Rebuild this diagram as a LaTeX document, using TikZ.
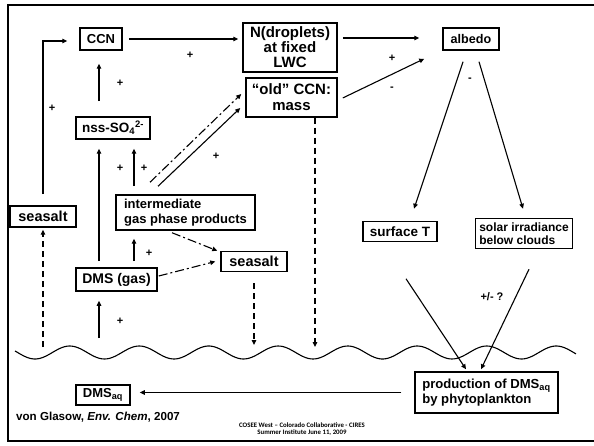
\documentclass[tikz,border=0pt]{standalone}
\usepackage{fontspec}
\setmainfont{Liberation Sans}
\newfontfamily\notefont{Carlito}
\usetikzlibrary{arrows.meta,calc}
\newcommand\fsz[2]{\fontsize{#1}{#2}\selectfont\bfseries}
\tikzset{
  box/.style={draw, line width=1.5pt, inner sep=0pt, align=center},
  arr/.style={line width=1.1pt, -{Triangle[length=5pt,width=4.5pt]}},
  dsh/.style={arr, dash pattern=on 6pt off 4pt},
  dshdot/.style={arr, dash pattern=on 9pt off 3pt on 2pt off 3pt},
  sign/.style={font=\fsz{11}{13}, inner sep=0pt},
}
\begin{document}
\begin{tikzpicture}[x=1pt,y=-1pt]
\useasboundingbox (0,0) rectangle (594,446);
% frame
\draw[line width=2.5pt] (594,5) -- (8,5) -- (8,441) -- (594,441);

% sea surface (period 69.5)
\draw[line width=1.1pt] plot[domain=15:576, samples=240]
  (\x, {352.5+6.5*sin((\x-35)*5.18+90)});

% boxes
\node[box, minimum width=42, minimum height=22, font=\fsz{13}{15}] (ccn) at (101,39) {CCN};
\node[box, minimum width=94, minimum height=49, font=\fsz{15}{15}] (ndrop) at (290,47.5) {N(droplets)\\at fixed\\LWC};
\node[box, minimum width=91, minimum height=39, font=\fsz{15}{16}] (oldccn) at (291.5,97.5) {“old” CCN:\\mass};
\node[box, minimum width=56, minimum height=22, font=\fsz{12.6}{15}] (albedo) at (471,39) {albedo};
\node[box, minimum width=74, minimum height=22, font=\fsz{13.5}{15}] (nss) at (113,128) {nss-SO\textsubscript{4}\textsuperscript{2-}};
\node[box, minimum width=139, minimum height=35, inner xsep=6pt, align=left, font=\fsz{13}{15}] (inter) at (185.5,212.5) {intermediate\\gas phase products};
\node[box, minimum width=66, minimum height=21, font=\fsz{14.5}{15}] (seasaltL) at (43,216.5) {seasalt};
\node[box, minimum width=66, minimum height=20, font=\fsz{14.5}{15}] (seasaltR) at (254,261.5) {seasalt};
\node[box, minimum width=81, minimum height=23, font=\fsz{14}{15}] (dmsgas) at (116.5,279.5) {DMS (gas)};
\node[box, minimum width=74, minimum height=20, font=\fsz{13.5}{15}] (surfT) at (400,231.5) {surface T};
\node[box, minimum width=93, minimum height=30, inner xsep=4pt, align=left, font=\fsz{12}{13}] (solar) at (524,233.5) {solar irradiance\\below clouds};
\node[box, minimum width=143, minimum height=41, inner xsep=5pt, align=left, font=\fsz{13.1}{15}] (prod) at (486.5,392.5) {production of DMS\textsubscript{aq}\\by phytoplankton};
\node[box, minimum width=54, minimum height=20, font=\fsz{13}{15}] (dmsaq) at (103,395) {DMS\textsubscript{aq}};

% free ends at the sea surface
\coordinate (w1) at (99,338);
\coordinate (w2) at (43,347);
\coordinate (w3) at (254,345);
\coordinate (w4) at (315,347);

% connectors
\draw[arr, shorten <=11pt, shorten >=12pt] (seasaltL.north) |- ([shift={(0,2)}]ccn.west);
\draw[arr, shorten <=15pt, shorten >=13pt] ([shift={(-14,0)}]nss.north) -- ([shift={(-2,0)}]ccn.south);
\draw[arr, shorten <=6pt, shorten >=4pt] (ccn.east) -- (ccn.east -| ndrop.west);
\draw[arr, shorten <=6pt, shorten >=9pt] ([shift={(-17.5,0)}]dmsgas.north) -- ([shift={(-14,0)}]nss.south);
\draw[arr, shorten <=8pt, shorten >=9pt] ([shift={(-51.5,0)}]inter.north) -- ([shift={(21,0)}]nss.south);
\draw[arr, shorten <=6pt, shorten >=8pt] ([shift={(17.5,0)}]dmsgas.north) -- ([shift={(-51.5,0)}]inter.south);
\draw[arr, shorten >=9pt] (w1) -- ([shift={(-17.5,0)}]dmsgas.south);
\draw[dsh, shorten >=2pt] (w2) -- (seasaltL.south);
\draw[dsh, shorten <=11pt] (seasaltR.south) -- (w3);
\draw[dshdot] ([shift={(-13.5,2)}]inter.south) -- ([shift={(-3,0)}]seasaltR.north west);
\draw[dshdot] ([shift={(1,-3.5)}]dmsgas.east) -- ([shift={(-5,0)}]seasaltR.west);
\draw[dshdot] ([shift={(-35.5,-12)}]inter.north) -- ([shift={(-4,-3.5)}]oldccn.west);
\draw[arr] ([shift={(-27.5,-8)}]inter.north) -- ([shift={(-5,10.5)}]oldccn.west);
\draw[arr] ([shift={(5,-9.5)}]ndrop.east) -- ([shift={(-23,-1)}]albedo.west);
\draw[arr] ([shift={(5,0.5)}]oldccn.east) -- ([shift={(-18,8)}]albedo.south west);
\draw[dsh] ([shift={(23.5,0)}]oldccn.south) -- (w4);
\draw[arr] ([shift={(-8,11)}]albedo.south) -- ([shift={(14,-12)}]surfT.north);
\draw[arr] ([shift={(8,11)}]albedo.south) -- ([shift={(-1,-9)}]solar.north);
\draw[arr] ([shift={(6,36.5)}]surfT.south) -- ([shift={(-20.5,-2)}]prod.north);
\draw[arr] ([shift={(5,20)}]solar.south) -- ([shift={(-5.5,-2)}]prod.north);
\draw[arr, shorten <=13pt, shorten >=9pt] (prod.west) -- (prod.west -| dmsaq.east);

% signs
\node[sign] (s1) at (52,108) {+};
\node[sign] (s2) at (120,83) {+};
\node[sign] (s3) at (190,55) {+};
\node[sign] (s4) at (120,168) {+};
\node[sign] (s5) at (144,168) {+};
\node[sign] (s6) at (149,253) {+};
\node[sign] (s7) at (120,321) {+};
\node[sign] (s8) at (216,156) {+};
\node[sign] (s9) at (392,58) {+};
\node[sign] (s10) at (392,89) {-};
\node[sign] (s11) at (470,80) {-};
\node[sign] (s12) at (492,297) {+/- ?};

% source and footer
\node[anchor=base west, inner sep=0pt, font=\fsz{11.6}{13}] (src) at (16,420) {von Glasow, \textit{Env. Chem}, 2007};
\node[anchor=base, inner sep=0pt, font=\notefont\fontsize{6.8}{8}\selectfont\bfseries] (foot1) at (302,427) {COSEE West – Colorado Collaborative - CIRES};
\node[anchor=base, inner sep=0pt, font=\notefont\fontsize{6.8}{8}\selectfont\bfseries] (foot2) at (302,434.5) {Summer Institute June 11, 2009};
\end{tikzpicture}
\end{document}
